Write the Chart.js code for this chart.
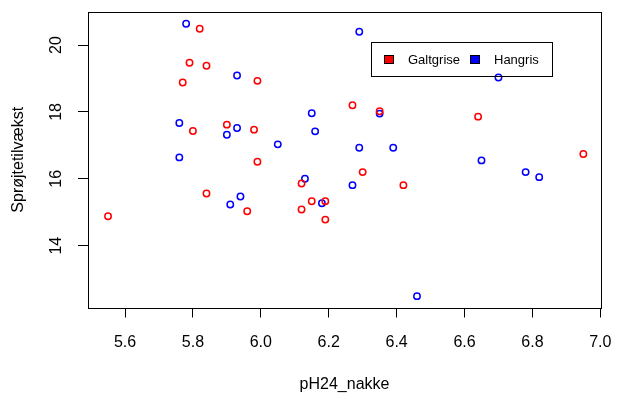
<!DOCTYPE html>
<html>
<head>
<meta charset="utf-8">
<script src="https://cdn.jsdelivr.net/npm/chart.js@4"></script>
<style>
  html, body { margin: 0; padding: 0; background: #fff; }
  canvas { display: block; }
</style>
</head>
<body>
<canvas id="chart" width="617" height="394"></canvas>
<script>
const FONT = '"Liberation Sans", Arial, sans-serif';

const seriesNames = ['Galtgrise', 'Hangris'];
const seriesColors = ['#ff0000', '#0000ff'];

const galtX = [5.82, 5.79, 5.84, 5.77, 5.99, 5.80, 5.90, 5.98, 5.99, 6.27, 6.35, 6.64,
  6.95, 6.12, 5.84, 5.96, 5.55, 6.15, 6.19, 6.12, 6.19, 6.30, 6.42];
const galtY = [20.49, 19.47, 19.38, 18.88, 18.93, 17.43, 17.62, 17.47, 16.51, 18.20, 18.02, 17.86,
  16.74, 15.86, 15.56, 15.03, 14.88, 15.33, 15.33, 15.08, 14.78, 16.20, 15.81];

const hanX = [5.78, 5.93, 6.15, 5.76, 5.93, 6.16, 5.90, 6.05, 5.76, 6.29, 6.70, 6.35,
  6.29, 6.39, 6.65, 6.13, 5.94, 5.91, 6.18, 6.78, 6.82, 6.27, 6.46];
const hanY = [20.64, 19.09, 17.96, 17.67, 17.52, 17.42, 17.32, 17.03, 16.64, 20.40, 19.03, 17.95,
  16.93, 16.93, 16.55, 16.00, 15.47, 15.23, 15.27, 16.20, 16.05, 15.81, 12.49];

const xTicks = [5.6, 5.8, 6.0, 6.2, 6.4, 6.6, 6.8, 7.0];
const yTicks = [14, 16, 18, 20];

const toPoints = (xs, ys) => xs.map((x, i) => ({ x, y: ys[i] }));

// tick labels must not push the plot region in
const noLabelPadding = (axis) => {
  axis.paddingLeft = 0;
  axis.paddingRight = 0;
  axis.paddingTop = 0;
  axis.paddingBottom = 0;
};

// box round the plot region + legend inside the plot
const boxAndLegend = {
  id: 'boxAndLegend',
  afterDraw(chart) {
    const { ctx, chartArea: a } = chart;
    ctx.save();
    ctx.strokeStyle = '#000';
    ctx.lineWidth = 1;
    ctx.strokeRect(Math.round(a.left) + 0.5, Math.round(a.top) + 0.5,
      Math.round(a.right - a.left), Math.round(a.bottom - a.top));

    ctx.strokeRect(371.5, 42.5, 181, 34);
    ctx.font = '13px ' + FONT;
    ctx.textBaseline = 'middle';
    const swatchX = [384, 470];
    chart.data.datasets.forEach((ds, i) => {
      ctx.fillStyle = ds.borderColor;
      ctx.fillRect(swatchX[i], 55, 10, 9);
      ctx.strokeRect(swatchX[i] + 0.5, 55.5, 9, 8);
      ctx.fillStyle = '#000';
      ctx.fillText(ds.label, swatchX[i] + 24, 60.5);
    });
    ctx.restore();
  }
};

new Chart(document.getElementById('chart'), {
  type: 'scatter',
  data: {
    datasets: [
      {
        label: seriesNames[0],
        data: toPoints(galtX, galtY),
        borderColor: seriesColors[0],
        backgroundColor: 'rgba(0,0,0,0)',
        pointRadius: 3.2,
        pointBorderWidth: 1.5
      },
      {
        label: seriesNames[1],
        data: toPoints(hanX, hanY),
        borderColor: seriesColors[1],
        backgroundColor: 'rgba(0,0,0,0)',
        pointRadius: 3.2,
        pointBorderWidth: 1.5
      }
    ]
  },
  options: {
    responsive: false,
    devicePixelRatio: 1,
    animation: false,
    layout: { padding: { top: 12, right: 16, left: 0, bottom: 0 } },
    scales: {
      x: {
        type: 'linear',
        min: 5.491,
        max: 7.002,
        afterBuildTicks: (axis) => { axis.ticks = xTicks.map(v => ({ value: v })); },
        afterFit: (axis) => { axis.height = 86.5; noLabelPadding(axis); },
        border: { display: false },
        grid: { drawOnChartArea: false, drawTicks: true, tickLength: 10, color: '#000' },
        ticks: {
          color: '#000',
          font: { family: FONT, size: 16 },
          padding: 15,
          maxRotation: 0,
          callback: (v) => v.toFixed(1)
        },
        title: {
          display: true,
          text: 'pH24_nakke',
          color: '#000',
          font: { family: FONT, size: 16 },
          padding: { top: 0, bottom: 0 }
        }
      },
      y: {
        type: 'linear',
        min: 12.15,
        max: 20.99,
        afterBuildTicks: (axis) => { axis.ticks = yTicks.map(v => ({ value: v })); },
        afterFit: (axis) => { axis.width = 88; noLabelPadding(axis); },
        border: { display: false },
        grid: { drawOnChartArea: false, drawTicks: true, tickLength: 10, color: '#000' },
        ticks: {
          color: '#000',
          font: { family: FONT, size: 16 },
          padding: 13,
          minRotation: 90,
          maxRotation: 90,
          crossAlign: 'center'
        },
        title: {
          display: true,
          text: 'Sprøjtetilvækst',
          color: '#000',
          font: { family: FONT, size: 16 },
          padding: { top: 9, bottom: 0 }
        }
      }
    },
    plugins: {
      legend: { display: false },
      tooltip: { enabled: false }
    }
  },
  plugins: [boxAndLegend]
});
</script>
</body>
</html>
